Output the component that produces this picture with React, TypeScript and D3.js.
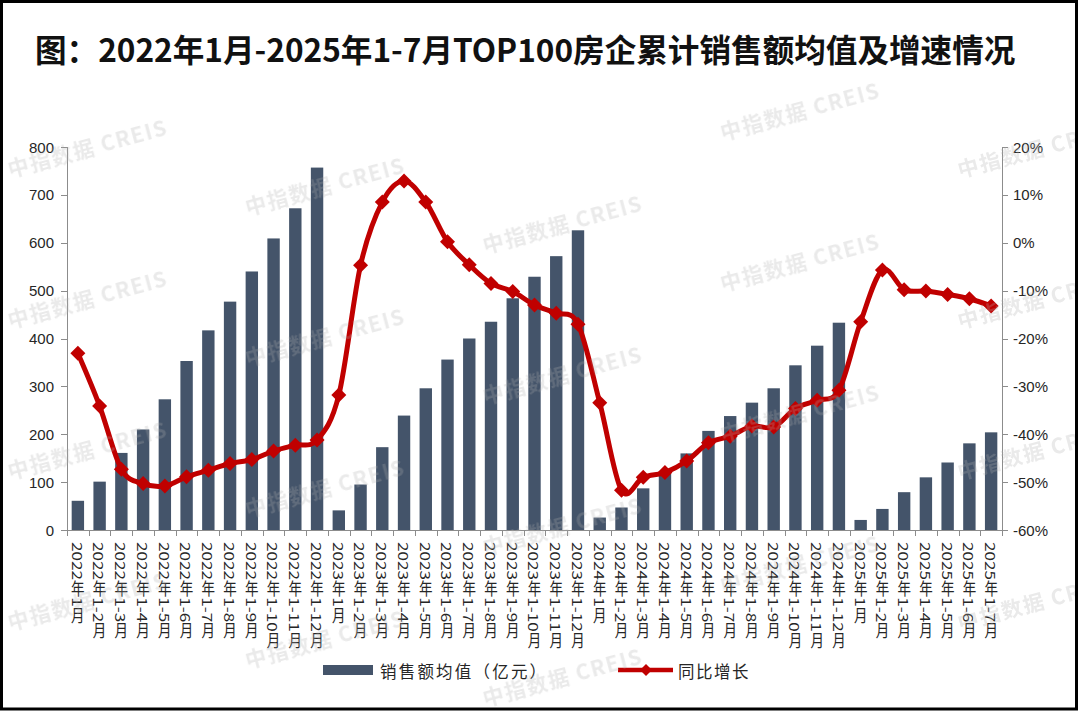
import React from 'react';
import * as d3 from 'd3';

const categories = [
  '2022年1月', '2022年1-2月', '2022年1-3月', '2022年1-4月', '2022年1-5月', '2022年1-6月',
  '2022年1-7月', '2022年1-8月', '2022年1-9月', '2022年1-10月', '2022年1-11月', '2022年1-12月',
  '2023年1月', '2023年1-2月', '2023年1-3月', '2023年1-4月', '2023年1-5月', '2023年1-6月',
  '2023年1-7月', '2023年1-8月', '2023年1-9月', '2023年1-10月', '2023年1-11月', '2023年1-12月',
  '2024年1月', '2024年1-2月', '2024年1-3月', '2024年1-4月', '2024年1-5月', '2024年1-6月',
  '2024年1-7月', '2024年1-8月', '2024年1-9月', '2024年1-10月', '2024年1-11月', '2024年1-12月',
  '2025年1月', '2025年1-2月', '2025年1-3月', '2025年1-4月', '2025年1-5月', '2025年1-6月',
  '2025年1-7月',
];

// 销售额均值（亿元）
const salesAvg = [
  61, 101, 161, 210, 273, 353, 417, 477, 540, 609, 672, 757,
  41, 95, 173, 239, 296, 356, 400, 435, 484, 529, 572, 626,
  26, 47, 87, 118, 160, 207, 238, 266, 296, 344, 385, 433,
  21, 44, 79, 110, 141, 181, 204,
];

// 同比增长（%）
const yoyGrowth = [
  -23.1, -34.1, -47.3, -50.3, -50.8, -48.9, -47.5, -46.1, -45.3, -43.5, -42.3, -41.2,
  -31.8, -4.7, 8.5, 12.9, 8.5, 0.2, -4.6, -8.5, -10.2, -13.0, -14.7, -17.0,
  -33.4, -51.7, -49.0, -48.0, -45.6, -41.8, -40.4, -38.3, -38.5, -34.6, -32.9, -30.8,
  -16.5, -5.7, -9.8, -10.1, -10.8, -11.7, -13.2,
];

const leftTicks = [0, 100, 200, 300, 400, 500, 600, 700, 800];
const rightTicks = [-60, -50, -40, -30, -20, -10, 0, 10, 20];

const title = '图：2022年1月-2025年1-7月TOP100房企累计销售额均值及增速情况';
const barLegend = '销售额均值（亿元）';
const lineLegend = '同比增长';
const watermark = '中指数据  CREIS';

const W = 1080;
const H = 712;
const PL = 67;
const PR = 1002;
const PT = 147;
const PB = 530;

const BAR = '#44546A';
const RED = '#C00000';
const AXIS = '#8c8c8c';
const CJK = "'Noto Sans CJK SC', 'Noto Sans', sans-serif";
const NUM = "'Liberation Sans', Arial, sans-serif";

export default function App() {
  const x = d3
    .scaleBand<string>()
    .domain(categories)
    .range([PL, PR])
    .paddingInner(0.43)
    .paddingOuter(0.215);
  const step = x.step();
  const yL = d3.scaleLinear().domain([0, 800]).range([PB, PT]);
  const yR = d3.scaleLinear().domain([-60, 20]).range([PB, PT]);

  const cx = (c: string) => (x(c) as number) + x.bandwidth() / 2;

  const line = d3
    .line<number>()
    .x((_, i) => cx(categories[i]))
    .y((d) => yR(d))
    .curve(d3.curveCatmullRom.alpha(0));

  const diamond = (s: number) => `M0,${-s}L${s},0L0,${s}L${-s},0Z`;

  const marks: { x: number; y: number }[] = [];
  for (let c = 0; c < 5; c++) {
    for (let r = -2; r < 5; r++) {
      const xx = 10 + 237.5 * c;
      const yy = 177 + 38 * c + 151 * r;
      if (yy >= 120 && yy <= 720) marks.push({ x: xx, y: yy });
    }
  }

  const boundaries = d3.range(categories.length + 1).map((i) => PL + step * i);

  return (
    <svg
      width={W}
      height={H}
      viewBox={`0 0 ${W} ${H}`}
      style={{ position: 'absolute', left: 0, top: 0, background: '#fff' }}
    >
      <defs>
        <clipPath id="inner">
          <rect x={3} y={3} width={1072} height={704} />
        </clipPath>
      </defs>
      <rect x={0} y={0} width={W} height={H} fill="#fff" />

      {/* title */}
      <text
        x={35}
        y={62}
        fontFamily={CJK}
        fontWeight={700}
        fontSize={31.6}
        fill="#111"
      >
        {title}
      </text>

      {/* bars */}
      <g>
        {salesAvg.map((v, i) => (
          <rect
            key={categories[i]}
            x={x(categories[i])}
            y={yL(v)}
            width={x.bandwidth()}
            height={PB - yL(v)}
            fill={BAR}
          />
        ))}
      </g>

      {/* axes */}
      <g stroke={AXIS} strokeWidth={1} fill="none">
        <line x1={PL + 0.5} x2={PL + 0.5} y1={PT} y2={PB} />
        <line x1={PR + 0.5} x2={PR + 0.5} y1={PT} y2={PB} />
        <line x1={PL} x2={PR + 1} y1={PB + 0.5} y2={PB + 0.5} />
        {leftTicks.map((t) => (
          <line key={'l' + t} x1={PL - 6} x2={PL} y1={Math.round(yL(t)) + 0.5} y2={Math.round(yL(t)) + 0.5} />
        ))}
        {rightTicks.map((t) => (
          <line key={'r' + t} x1={PR} x2={PR + 6} y1={Math.round(yR(t)) + 0.5} y2={Math.round(yR(t)) + 0.5} />
        ))}
        {boundaries.map((b, i) => (
          <line key={'b' + i} x1={Math.round(b) + 0.5} x2={Math.round(b) + 0.5} y1={PB} y2={PB + 6} />
        ))}
      </g>

      <g fontFamily={NUM} fontSize={15} fill="#262626">
        {leftTicks.map((t) => (
          <text key={'lt' + t} x={54} y={yL(t)} textAnchor="end" dominantBaseline="central">
            {t}
          </text>
        ))}
        {rightTicks.map((t) => (
          <text key={'rt' + t} x={1013} y={yR(t)} textAnchor="start" dominantBaseline="central">
            {`${t}%`}
          </text>
        ))}
      </g>

      {/* category labels */}
      <g fontFamily={CJK} fontSize={13.5} fill="#262626">
        {categories.map((c) => (
          <g key={'c' + c} transform={`translate(${cx(c)},542) scale(1,1.27)`}>
            <text x={0} y={0} style={{ writingMode: 'vertical-rl' }}>
              {c}
            </text>
          </g>
        ))}
      </g>

      {/* line */}
      <path d={line(yoyGrowth) || ''} fill="none" stroke={RED} strokeWidth={5} strokeLinejoin="round" />
      <g fill={RED}>
        {yoyGrowth.map((v, i) => (
          <path key={'m' + i} d={diamond(7.5)} transform={`translate(${cx(categories[i])},${yR(v)})`} />
        ))}
      </g>

      {/* legend */}
      <rect x={323} y={665} width={50} height={10} fill={BAR} />
      <text x={380} y={671} fontFamily={CJK} fontSize={16.5} letterSpacing={2.2} fill="#262626" dominantBaseline="central">
        {barLegend}
      </text>
      <line x1={618} x2={673} y1={670} y2={670} stroke={RED} strokeWidth={4.5} />
      <path d={diamond(6)} transform="translate(646,670)" fill={RED} />
      <text x={678} y={671} fontFamily={CJK} fontSize={16.5} letterSpacing={1.5} fill="#262626" dominantBaseline="central">
        {lineLegend}
      </text>

      {/* watermarks */}
      <g clipPath="url(#inner)" fontFamily={CJK} fontWeight={700} fontSize={21} fill="#b0b0b0" opacity={0.27} letterSpacing={1.5}>
        {marks.map((m, i) => (
          <text key={'w' + i} transform={`translate(${m.x},${m.y}) rotate(-15)`}>
            {watermark}
          </text>
        ))}
      </g>

      {/* frame */}
      <rect x={1.5} y={1.5} width={1075} height={707.5} fill="none" stroke="#000" strokeWidth={3} />
    </svg>
  );
}
